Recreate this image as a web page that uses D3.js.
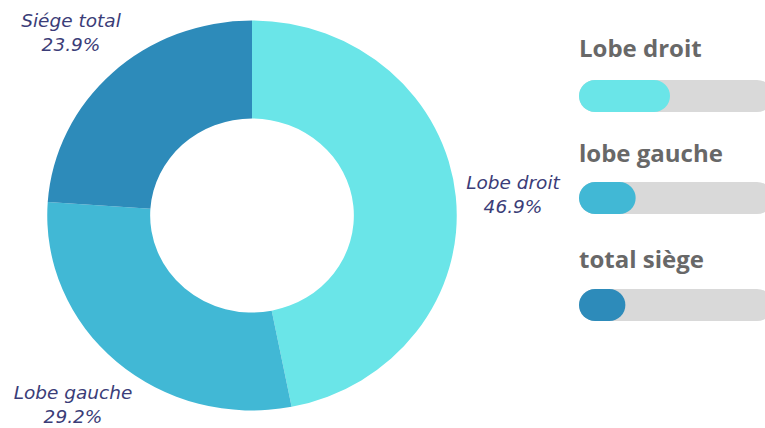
<!DOCTYPE html>
<html>
<head>
<meta charset="utf-8">
<script src="https://cdn.jsdelivr.net/npm/d3@7"></script>
<style>
  html, body { margin: 0; padding: 0; background: #ffffff; }
  svg { display: block; }
</style>
</head>
<body>
<svg id="chart" width="765" height="428"></svg>
<script>
// Segment data (percent of total)
const sliceLabels = ["Lobe droit", "Lobe gauche", "Siége total"];
const sliceValues = [46.9, 29.2, 23.9];
const sliceColors = ["#6ae5e8", "#41b8d5", "#2d8bba"];

// Legend entries with progress bars
const legendLabels = ["Lobe droit", "lobe gauche", "total siège"];
const legendValues = [46.9, 29.2, 23.9];

const svg = d3.select("#chart");

// ---- Donut (slightly wider than tall) ----
const cx = 252, cy = 215.5;
const outerR = 195, innerR = 97;
const stretchX = 1.05;

const pie = d3.pie().sort(null).value(d => d.value);
const arc = d3.arc().innerRadius(innerR).outerRadius(outerR);

const data = sliceLabels.map((l, i) => ({ label: l, value: sliceValues[i], color: sliceColors[i] }));
const arcs = pie(data);

const g = svg.append("g").attr("transform", `translate(${cx},${cy}) scale(${stretchX},1)`);
g.selectAll("path")
  .data(arcs)
  .join("path")
  .attr("d", arc)
  .attr("fill", d => d.data.color);

// Outside labels: label line + percentage line
const labelPos = [
  { x: 513, y: 189 },
  { x: 73, y: 399 },
  { x: 71, y: 27 }
];
const labelG = svg.append("g")
  .attr("font-family", "'DejaVu Sans', sans-serif")
  .attr("font-style", "italic")
  .attr("font-size", 18.5)
  .attr("fill", "#3b3d78")
  .attr("text-anchor", "middle");

arcs.forEach((a, i) => {
  const t = labelG.append("text")
    .attr("x", labelPos[i].x)
    .attr("y", labelPos[i].y);
  t.append("tspan").attr("x", labelPos[i].x).text(a.data.label);
  t.append("tspan").attr("x", labelPos[i].x).attr("dy", 24)
    .text(d3.format(".1f")(a.data.value) + "%");
});

// ---- Legend with progress bars ----
const barX = 579, barW = 194, barH = 32;
const xBar = d3.scaleLinear().domain([0, 100]).range([0, barW]);
const titleY = [57, 162, 268];
const barY = [80, 182, 289];

const lg = svg.append("g");
legendLabels.forEach((l, i) => {
  lg.append("text")
    .attr("x", 579)
    .attr("y", titleY[i])
    .attr("font-family", "'Open Sans', sans-serif")
    .attr("font-weight", 700)
    .attr("font-size", 24)
    .attr("fill", "#686868")
    .text(l);
  lg.append("rect")
    .attr("x", barX).attr("y", barY[i])
    .attr("width", xBar(100)).attr("height", barH)
    .attr("rx", barH / 2)
    .attr("fill", "#d9d9d9");
  lg.append("rect")
    .attr("x", barX).attr("y", barY[i])
    .attr("width", xBar(legendValues[i])).attr("height", barH)
    .attr("rx", barH / 2)
    .attr("fill", sliceColors[i]);
});
</script>
</body>
</html>
